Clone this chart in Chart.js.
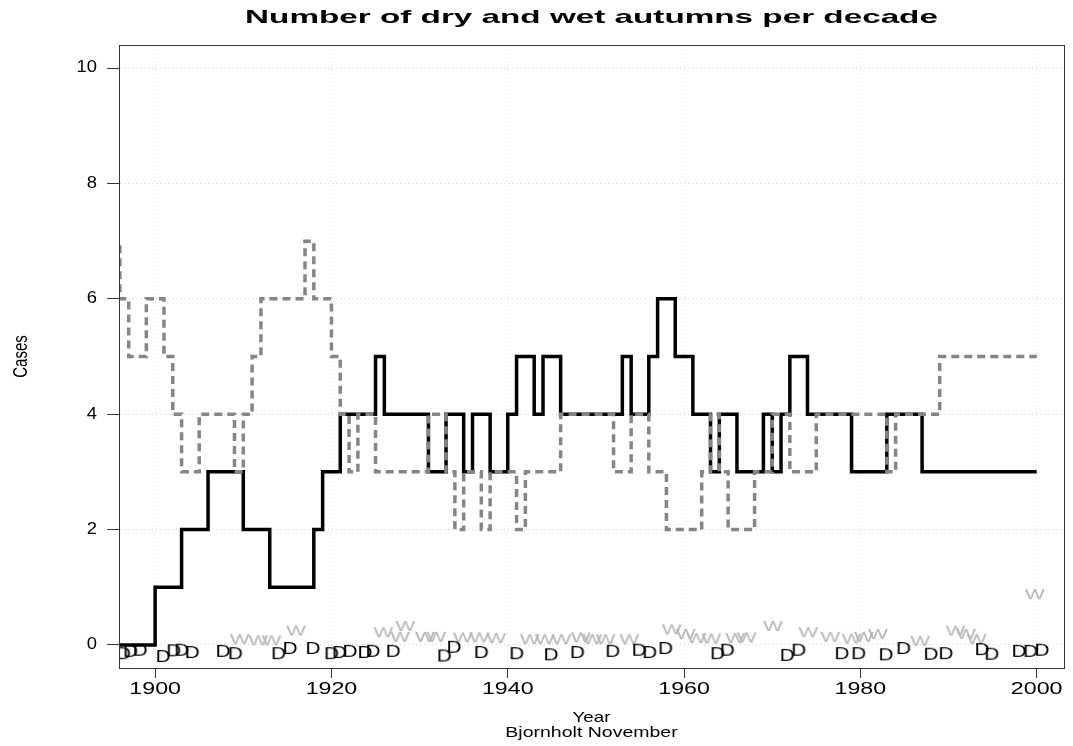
<!DOCTYPE html>
<html>
<head>
<meta charset="utf-8">
<script src="https://cdn.jsdelivr.net/npm/chart.js@4.4.0/dist/chart.umd.min.js"></script>
<style>
html, body { margin: 0; padding: 0; background: #fff; }
</style>
</head>
<body>
<canvas id="chart" width="1073" height="746"></canvas>
<script>
// step series: year where a new decade count starts, and that count
const dryYears = [1895, 1900, 1903, 1906, 1910, 1913, 1918, 1919, 1921, 1925, 1926, 1931, 1933, 1935, 1936, 1938, 1940, 1941, 1943, 1944, 1946, 1953, 1954, 1956, 1957, 1959, 1961, 1963, 1964, 1966, 1969, 1970, 1971, 1972, 1974, 1979, 1983, 1987, 2000];
const dryCases = [0, 1, 2, 3, 2, 1, 2, 3, 4, 5, 4, 3, 4, 3, 4, 3, 4, 5, 4, 5, 4, 5, 4, 5, 6, 5, 4, 3, 4, 3, 4, 3, 4, 5, 4, 3, 4, 3, 3];

const wetYears = [1895, 1896, 1897, 1899, 1901, 1902, 1903, 1905, 1909, 1910, 1911, 1912, 1917, 1918, 1920, 1921, 1922, 1923, 1925, 1931, 1933, 1934, 1935, 1937, 1938, 1941, 1942, 1946, 1952, 1954, 1956, 1958, 1962, 1963, 1964, 1965, 1968, 1970, 1972, 1975, 1983, 1984, 1989, 2000];
const wetCases = [7, 6, 5, 6, 5, 4, 3, 4, 3, 4, 5, 6, 7, 6, 5, 4, 3, 4, 3, 4, 3, 2, 3, 2, 3, 2, 3, 4, 3, 4, 3, 2, 3, 4, 3, 2, 3, 4, 3, 4, 3, 4, 5, 5];

// single dry / wet autumns, jittered around zero
const dryX = [1896.4, 1897.2, 1898.3, 1900.9, 1902.1, 1903.0, 1904.2, 1907.7, 1909.1, 1914.0, 1915.3, 1917.9, 1920.0, 1920.9, 1922.1, 1923.8, 1924.7, 1927.0, 1932.8, 1933.9, 1937.0, 1941.0, 1944.9, 1947.9, 1951.9, 1954.9, 1956.1, 1957.9, 1963.8, 1964.9, 1971.7, 1973.0, 1977.9, 1979.8, 1982.9, 1984.9, 1988.0, 1989.7, 1993.8, 1994.9, 1998.0, 1999.3, 2000.6];
const dryY = [-0.16, -0.12, -0.10, -0.21, -0.11, -0.10, -0.14, -0.12, -0.16, -0.16, -0.07, -0.07, -0.16, -0.14, -0.12, -0.14, -0.12, -0.12, -0.20, -0.05, -0.14, -0.16, -0.18, -0.14, -0.12, -0.10, -0.14, -0.07, -0.16, -0.10, -0.19, -0.10, -0.16, -0.16, -0.18, -0.07, -0.17, -0.16, -0.09, -0.17, -0.12, -0.12, -0.10];
const wetX = [1909.6, 1911.7, 1913.2, 1916.0, 1925.9, 1927.8, 1928.4, 1930.6, 1931.9, 1934.9, 1936.8, 1938.7, 1942.5, 1944.2, 1946.1, 1948.3, 1949.6, 1951.1, 1953.8, 1958.6, 1960.2, 1961.4, 1963.1, 1965.8, 1967.1, 1970.1, 1974.1, 1976.6, 1979.0, 1980.4, 1982.0, 1986.8, 1990.8, 1992.0, 1993.2, 1999.8];
const wetY = [0.10, 0.08, 0.08, 0.25, 0.22, 0.14, 0.33, 0.14, 0.14, 0.13, 0.13, 0.12, 0.10, 0.10, 0.10, 0.13, 0.10, 0.10, 0.10, 0.27, 0.19, 0.12, 0.11, 0.12, 0.13, 0.33, 0.22, 0.14, 0.11, 0.14, 0.19, 0.07, 0.25, 0.19, 0.10, 0.88];

const xTicks = [1900, 1920, 1940, 1960, 1980, 2000];
const yTicks = [0, 2, 4, 6, 8, 10];

const mainTitle = 'Number of dry and wet autumns per decade';
const xTitle = ['Year', 'Bjornholt November'];
const yTitle = 'Cases';

// the reference is stretched sideways, so text gets a horizontal scale
function stretchText(ctx, text, x, y, font, sx, align, rot) {
    ctx.save();
    ctx.font = font;
    ctx.fillStyle = '#000';
    ctx.textAlign = align;
    ctx.textBaseline = 'middle';
    ctx.translate(x, y);
    ctx.scale(sx, 1);
    if (rot) ctx.rotate(rot);
    ctx.fillText(text, 0, 0);
    ctx.restore();
}

function letterImage(letter, font, color, sx) {
    let c = document.createElement('canvas');
    c.width = 30;
    c.height = 22;
    let g = c.getContext('2d');
    g.translate(c.width / 2, c.height / 2);
    g.scale(sx, 1);
    g.font = font;
    g.fillStyle = color;
    g.textAlign = 'center';
    g.textBaseline = 'middle';
    g.fillText(letter, 0, 1);
    return c;
}

const dImg = letterImage('D', '16px "Liberation Sans"', '#000', 1.3);
const wImg = letterImage('W', '14px "Liberation Sans"', '#b4b4b4', 1.5);

const textPlugin = {
    id: 'rtext',
    afterDraw(chart) {
        const ctx = chart.ctx;
        const a = chart.chartArea;
        const xs = chart.scales.x;
        const ys = chart.scales.y;

        // box round the plot
        ctx.save();
        ctx.strokeStyle = '#333';
        ctx.lineWidth = 1;
        ctx.strokeRect(a.left + 0.5, a.top + 0.5, a.right - a.left, a.bottom - a.top);
        ctx.restore();

        stretchText(ctx, mainTitle, (a.left + a.right) / 2, 18, 'bold 19px "Liberation Sans"', 1.75, 'center');
        yTicks.forEach(v => {
            stretchText(ctx, String(v), 97, ys.getPixelForValue(v), '16px "Liberation Sans"', 1.15, 'right');
        });
        xTicks.forEach(v => {
            stretchText(ctx, String(v), xs.getPixelForValue(v), 690, '16px "Liberation Sans"', 1.45, 'center');
        });
        stretchText(ctx, xTitle[0], (a.left + a.right) / 2, 718, '15px "Liberation Sans"', 1.25, 'center');
        stretchText(ctx, xTitle[1], (a.left + a.right) / 2, 733, '15px "Liberation Sans"', 1.3, 'center');
        stretchText(ctx, yTitle, 22, (a.top + a.bottom) / 2, '15px "Liberation Sans"', 1.3, 'center', -Math.PI / 2);
    }
};

new Chart(document.getElementById('chart'), {
    type: 'scatter',
    data: {
        datasets: [
            {
                label: 'wet',
                data: wetYears.map((x, i) => ({x: x, y: wetCases[i]})),
                showLine: true,
                stepped: true,
                borderColor: '#858585',
                borderWidth: 3.5,
                borderDash: [8, 5],
                pointRadius: 0,
                fill: false,
            },
            {
                label: 'dry',
                data: dryYears.map((x, i) => ({x: x, y: dryCases[i]})),
                showLine: true,
                stepped: true,
                borderColor: '#000',
                borderWidth: 3.5,
                pointRadius: 0,
                fill: false,
            },
            {
                label: 'D',
                data: dryX.map((x, i) => ({x: x, y: dryY[i]})),
                pointStyle: dImg,
                pointRadius: 8,
            },
            {
                label: 'W',
                data: wetX.map((x, i) => ({x: x, y: wetY[i]})),
                pointStyle: wImg,
                pointRadius: 8,
            },
        ],
    },
    options: {
        responsive: false,
        animation: false,
        layout: {
            padding: {left: 0, right: 8, top: 45, bottom: 0},
        },
        plugins: {
            legend: {display: false},
            title: {display: false},
            tooltip: {enabled: false},
        },
        scales: {
            x: {
                type: 'linear',
                min: 1895.9,
                max: 2003.1,
                afterBuildTicks: (scale) => {
                    scale.ticks = xTicks.map(v => ({value: v}));
                },
                afterFit: (scale) => {
                    scale.height = 78;
                },
                ticks: {display: false},
                grid: {
                    color: '#d4d4d4',
                    tickColor: '#333',
                    tickLength: 10,
                    tickWidth: 1,
                    tickBorderDash: [],
                },
                border: {display: true, color: '#333', dash: [1, 3]},
            },
            y: {
                type: 'linear',
                min: -0.4,
                max: 10.4,
                afterBuildTicks: (scale) => {
                    scale.ticks = yTicks.map(v => ({value: v}));
                },
                afterFit: (scale) => {
                    scale.width = 119;
                },
                ticks: {display: false},
                grid: {
                    color: '#d4d4d4',
                    tickColor: '#333',
                    tickLength: 12,
                    tickWidth: 1,
                    tickBorderDash: [],
                },
                border: {display: true, color: '#333', dash: [1, 3]},
            },
        },
    },
    plugins: [textPlugin],
});
</script>
</body>
</html>
